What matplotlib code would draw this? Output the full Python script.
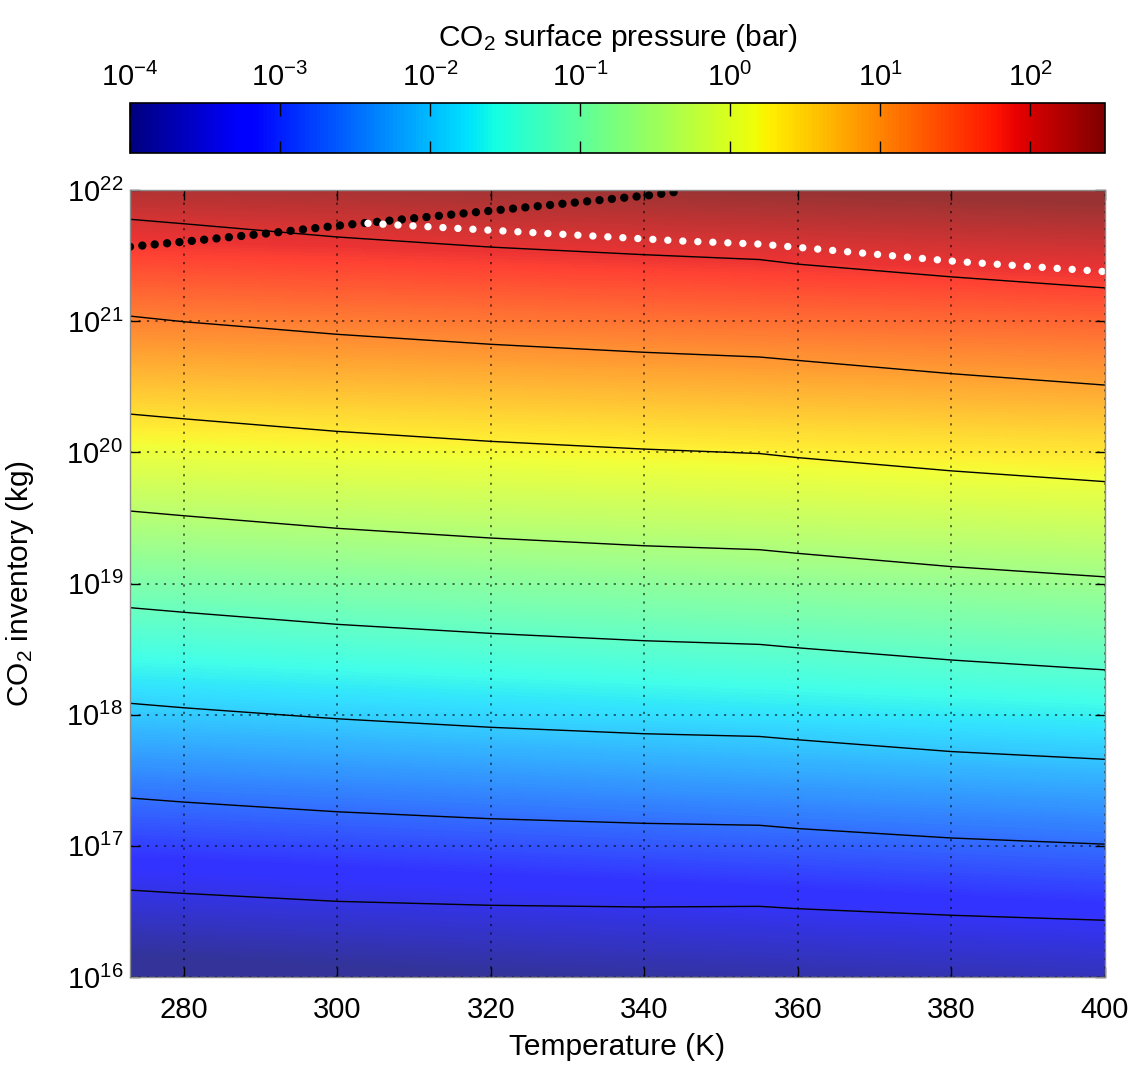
import numpy as np
import matplotlib
matplotlib.use('Agg')
import matplotlib.pyplot as plt
from matplotlib.colors import LogNorm, ListedColormap
from matplotlib.cm import ScalarMappable
from matplotlib.ticker import NullLocator

plt.rcParams['font.family'] = ['Liberation Sans', 'DejaVu Sans']
plt.rcParams['mathtext.fontset'] = 'custom'
plt.rcParams['mathtext.rm'] = 'Liberation Sans'
plt.rcParams['mathtext.it'] = 'Liberation Sans:italic'
plt.rcParams['mathtext.bf'] = 'Liberation Sans:bold'

# temperatures (K) where the black curves were read
temps = [273, 280, 300, 320, 340, 355, 360, 380, 400]

# log10 CO2 inventory (kg) along each black curve, top to bottom
curve1 = [21.777, 21.743, 21.642, 21.565, 21.507, 21.470, 21.435, 21.338, 21.254]
curve2 = [21.039, 20.996, 20.900, 20.824, 20.763, 20.727, 20.701, 20.600, 20.513]
curve3 = [20.292, 20.256, 20.160, 20.084, 20.025, 19.991, 19.960, 19.859, 19.777]
curve4 = [19.553, 19.517, 19.421, 19.347, 19.288, 19.258, 19.230, 19.129, 19.051]
curve5 = [18.816, 18.781, 18.689, 18.620, 18.564, 18.536, 18.510, 18.417, 18.342]
curve6 = [18.087, 18.053, 17.969, 17.904, 17.855, 17.834, 17.809, 17.719, 17.660]
curve7 = [17.365, 17.334, 17.260, 17.207, 17.172, 17.157, 17.132, 17.060, 17.013]
curve8 = [16.663, 16.638, 16.577, 16.547, 16.534, 16.539, 16.521, 16.471, 16.433]
curves = [curve1, curve2, curve3, curve4, curve5, curve6, curve7, curve8]

# black dotted boundary
black_T = [273, 280, 291, 300, 320, 341, 344]
black_inv = [21.568, 21.606, 21.670, 21.728, 21.842, 21.962, 21.985]

# white dotted boundary
white_T = [304, 345, 355, 361, 380.5, 400]
white_inv = [21.746, 21.611, 21.588, 21.558, 21.456, 21.378]

# surface pressure, log10(bar); rows = log10 inventory, cols = temperature
field_T = [273, 400]
field_inv = [16, 17, 18, 19, 20, 21, 22]
field_logp = [
    [-4.16, -3.76],
    [-3.08, -2.72],
    [-2.00, -1.66],
    [-0.97, -0.68],
    [0.10, 0.36],
    [1.22, 1.48],
    [2.32, 2.60],
]

p_min, p_max = -4, 2.5
cbar_ticks = [1e-4, 1e-3, 1e-2, 1e-1, 1e0, 1e1, 1e2]

# jet, faded towards white like the semi-transparent surface
jet = plt.get_cmap('jet')(np.linspace(0, 1, 256))
pale = jet.copy()
pale[:, :3] = jet[:, :3] * 0.8 + 0.2
pale_jet = ListedColormap(pale)

fig = plt.figure(figsize=(11.28, 10.67), dpi=100)
pos = [0.1152, 0.0843, 0.8644, 0.7376]

# background field, drawn in linear log10 coordinates
ax_bg = fig.add_axes(pos, zorder=0)
dT = field_T[1] - field_T[0]
ax_bg.imshow(np.array(field_logp), origin='lower', aspect='auto',
             extent=[field_T[0] - dT / 2, field_T[-1] + dT / 2,
                     field_inv[0] - 0.5, field_inv[-1] + 0.5],
             cmap=pale_jet, vmin=p_min, vmax=p_max,
             interpolation='bilinear', interpolation_stage='data')
ax_bg.set_xlim(273, 400)
ax_bg.set_ylim(16, 22)
ax_bg.set_axis_off()

ax = fig.add_axes(pos, zorder=1)
ax.patch.set_alpha(0)
ax.set_yscale('log')

for c in curves:
    ax.plot(temps, 10 ** np.array(c), color='k', lw=1.0)

ax.plot(black_T, 10 ** np.array(black_inv), color='k', lw=6.0,
        linestyle=(0, (0.01, 1.48)), dash_capstyle='round')
ax.plot(white_T, 10 ** np.array(white_inv), color='white', lw=5.3,
        linestyle=(0, (0.01, 2.03)), dash_capstyle='round')

ax.set_xlim(273, 400)
ax.set_ylim(1e16, 1e22)
ax.set_xticks([280, 300, 320, 340, 360, 380, 400])
ax.set_yticks([10.0 ** k for k in range(16, 23)])
ax.yaxis.set_minor_locator(NullLocator())
ax.grid(True, which='major', linestyle=(0, (1.2, 3.5)), color='k',
        alpha=0.6, lw=1.3)
ax.tick_params(direction='in', length=7, width=1, top=True, right=True,
               labelsize=21)
ax.tick_params(axis='x', pad=14)
ax.tick_params(axis='y', pad=5)
for s in ax.spines.values():
    s.set_color('0.55')
    s.set_linewidth(1)

ax.set_xlabel('Temperature (K)', fontsize=21.5, labelpad=6)
ax.set_ylabel('CO$_2$ inventory (kg)', fontsize=21.5, labelpad=22)

# colorbar
cax = fig.add_axes([0.1152, 0.8566, 0.8644, 0.0469])
sm = ScalarMappable(norm=LogNorm(10 ** p_min, 10 ** p_max), cmap='jet')
cb = fig.colorbar(sm, cax=cax, orientation='horizontal')
cb.set_ticks(cbar_ticks)
cax.xaxis.set_minor_locator(NullLocator())
cax.xaxis.set_ticks_position('both')
cax.xaxis.set_label_position('top')
cax.tick_params(axis='x', direction='in', length=9, width=1, top=True,
                bottom=True, labeltop=True, labelbottom=False,
                labelsize=21, pad=8)
cb.outline.set_linewidth(1.2)
cb.set_label('CO$_2$ surface pressure (bar)', fontsize=21.5, labelpad=12)

fig.savefig('out.png', dpi=100)
